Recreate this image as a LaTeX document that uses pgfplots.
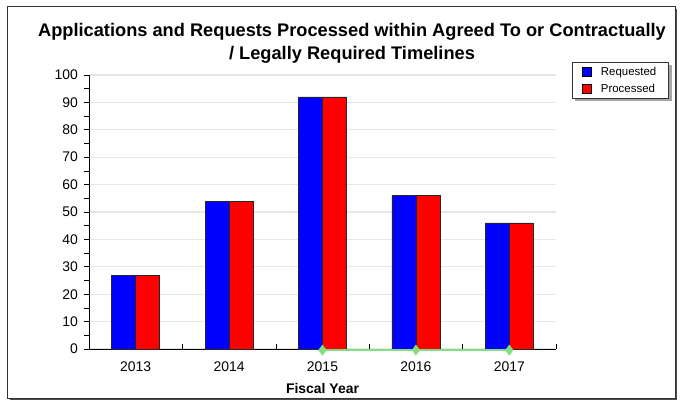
\documentclass[border=0pt]{standalone}
\usepackage{fontspec}
\setmainfont{Liberation Sans}
\usepackage{pgfplots}
\pgfplotsset{compat=1.18}
\definecolor{gridgray}{RGB}{230,230,230}
\definecolor{mygreen}{RGB}{128,224,128}
\pgfdeclarelayer{bgzero}
\pgfdeclarelayer{bgone}
\pgfsetlayers{bgzero,bgone,main}
\begin{document}
\begin{tikzpicture}
\path[use as bounding box] (-89bp,-52bp) rectangle (592bp,349bp);
\begin{pgfonlayer}{bgzero}
\fill[black!70] (-79bp,-51bp) rectangle (588bp,340bp);
\draw[fill=white, draw=black!80, line width=1bp] (-81bp,-49bp) rectangle (586bp,342bp);
\end{pgfonlayer}
\node[align=center, font=\bfseries\fontsize{18.3}{23}\selectfont] at (263bp,305.5bp)
  {Applications and Requests Processed within Agreed To or Contractually\\/ Legally Required Timelines};
\begin{axis}[
  at={(0,0)}, anchor=south west,
  width=467bp, height=274bp, scale only axis,
  xmin=-0.5, xmax=4.5, ymin=0, ymax=100,
  axis x line*=bottom, axis y line*=left,
  axis line style={black, line width=0.8bp, -},
  xtick={0,1,2,3,4}, xticklabels={2013,2014,2015,2016,2017},
  major x tick style={draw=none},
  minor xtick={0.5,1.5,2.5,3.5,4.5},
  ytick={0,10,...,100}, minor ytick={5,15,...,95},
  xtick align=inside, ytick align=outside,
  major tick length=5bp, minor tick length=5bp,
  tick style={black, line width=0.6bp},
  ymajorgrids, grid style={gridgray, line width=1.2bp},
  /pgf/number format/assume math mode=true,
  ticklabel style={font=\fontsize{14}{16}\selectfont},
  yticklabel style={anchor=east, inner sep=0pt, xshift=-6bp},
  xticklabel style={anchor=center, inner sep=0pt, yshift=-18bp},
  xlabel={\textbf{Fiscal Year}},
  xlabel style={font=\fontsize{14}{16}\selectfont, at={(axis description cs:0.5,0)}, anchor=center, yshift=-40bp},
  clip=false,
  legend style={at={(1.034,1.047)}, anchor=north west, draw=black!80, line width=0.8bp,
    fill=white, name=leg,
    font=\fontsize{11.5}{13}\selectfont, inner xsep=10bp, inner ysep=2.5bp, row sep=3bp,
    /tikz/every odd column/.append style={column sep=7bp},
    cells={anchor=west}},
  legend cell align=left,
]
\addplot[ybar, bar width=24bp, bar shift=-12bp, fill=blue, draw=black!85, line width=0.7bp,
  legend image code/.code={\draw[fill=blue,draw=black,line width=0.6bp] (0bp,-4.5bp) rectangle (9bp,4.5bp);}]
  coordinates {(0,27) (1,54) (2,92) (3,56) (4,46)};
\addlegendentry{Requested}
\addplot[ybar, bar width=24bp, bar shift=12bp, fill=red, draw=black!85, line width=0.7bp,
  legend image code/.code={\draw[fill=red,draw=black,line width=0.6bp] (0bp,-4.5bp) rectangle (9bp,4.5bp);}]
  coordinates {(0,27) (1,54) (2,92) (3,56) (4,46)};
\addlegendentry{Processed}
\addplot[forget plot, sharp plot, mygreen, line width=1.8bp, mark=diamond*, mark size=4bp,
  mark options={fill=mygreen, draw=mygreen}]
  coordinates {(2,-0.4) (3,-0.4) (4,-0.4)};
\end{axis}
\begin{pgfonlayer}{bgone}
\fill[black!35] ([shift={(3bp,-3bp)}]leg.south west) rectangle ([shift={(3bp,-3bp)}]leg.north east);
\end{pgfonlayer}
\end{tikzpicture}
\end{document}
